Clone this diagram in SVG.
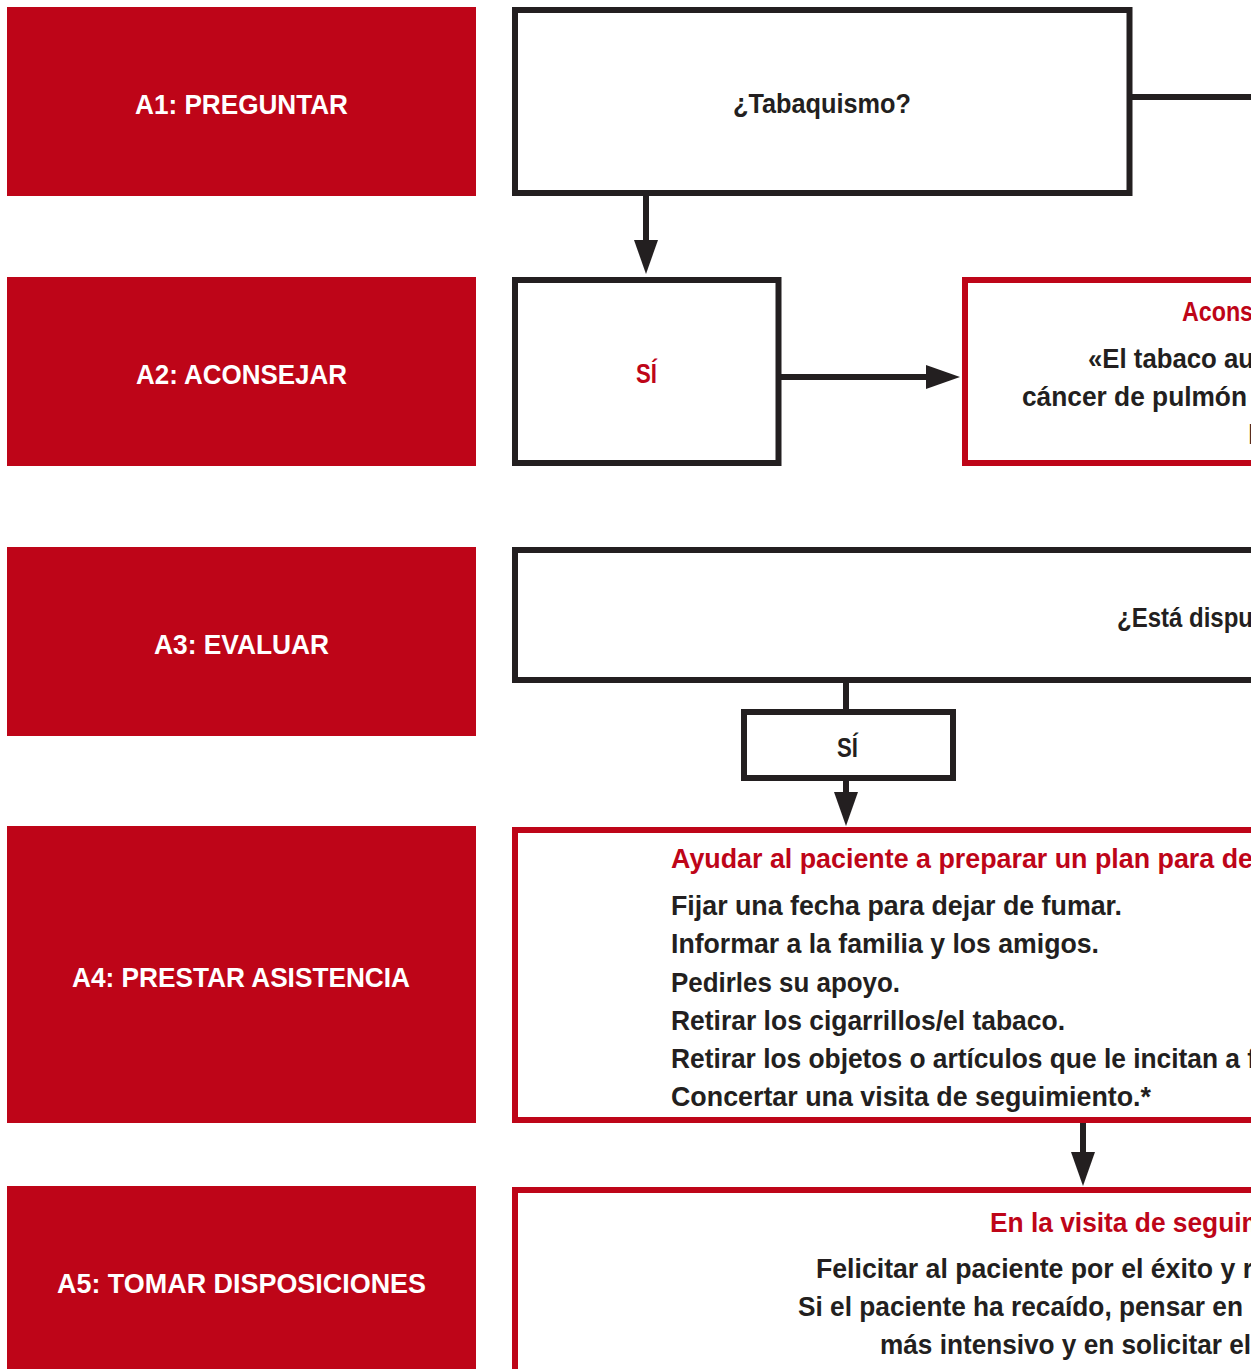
<svg xmlns="http://www.w3.org/2000/svg" width="1251" height="1369" viewBox="0 0 1251 1369">
<style>
.lbl{fill:#BE0518}
.lt{fill:#ffffff;font-family:"Liberation Sans Narrow","Liberation Sans",Arial,sans-serif;font-weight:bold;font-size:28px}
.t{fill:#231F20;font-family:"Liberation Sans Narrow","Liberation Sans",Arial,sans-serif;font-weight:bold;font-size:28px}
.r{fill:#BE0518}
.bk{fill:#ffffff;stroke:#231F20;stroke-width:6}
.rd{fill:#ffffff;stroke:#BE0518;stroke-width:6}
.c{fill:none;stroke:#231F20;stroke-width:6}
</style>
<defs>
<marker id="ah" markerUnits="userSpaceOnUse" markerWidth="34" markerHeight="24" viewBox="0 0 34 24" refX="0" refY="12" orient="auto">
<path d="M0,0 L34,12 L0,24 Z" fill="#231F20"/>
</marker>
</defs>
<rect width="1251" height="1369" fill="#ffffff"/>

<g id="label-a1"><rect class="lbl" x="7" y="7" width="469" height="189"/><text class="lt" x="135" y="114" textLength="213" lengthAdjust="spacingAndGlyphs">A1: PREGUNTAR</text></g>
<g id="label-a2"><rect class="lbl" x="7" y="277" width="469" height="189"/><text class="lt" x="136" y="384" textLength="211" lengthAdjust="spacingAndGlyphs">A2: ACONSEJAR</text></g>
<g id="label-a3"><rect class="lbl" x="7" y="547" width="469" height="189"/><text class="lt" x="154" y="654" textLength="175" lengthAdjust="spacingAndGlyphs">A3: EVALUAR</text></g>
<g id="label-a4"><rect class="lbl" x="7" y="826" width="469" height="297"/><text class="lt" x="72" y="987" textLength="338" lengthAdjust="spacingAndGlyphs">A4: PRESTAR ASISTENCIA</text></g>
<g id="label-a5"><rect class="lbl" x="7" y="1186" width="469" height="200"/><text class="lt" x="57" y="1293" textLength="369" lengthAdjust="spacingAndGlyphs">A5: TOMAR DISPOSICIONES</text></g>

<g id="connectors">
<path class="c" d="M1130,97 H1260"/>
<path class="c" d="M646,193 V240" marker-end="url(#ah)"/>
<path class="c" d="M778,377 H926" marker-end="url(#ah)"/>
<path class="c" d="M846,680 V712"/>
<path class="c" d="M846,778 V792" marker-end="url(#ah)"/>
<path class="c" d="M1083,1120 V1152" marker-end="url(#ah)"/>
</g>

<g id="node-tabaquismo"><rect class="bk" x="515" y="10" width="614.5" height="183"/><text class="t" x="733" y="113" textLength="178" lengthAdjust="spacingAndGlyphs">¿Tabaquismo?</text></g>
<g id="node-si1"><rect class="bk" x="515" y="280" width="263.5" height="183"/><text class="t r" x="636" y="383" textLength="21" lengthAdjust="spacingAndGlyphs">SÍ</text></g>
<g id="node-aconsejar"><rect class="rd" x="965" y="280" width="400" height="183"/>
<text class="t r" x="1182" y="321" textLength="71" lengthAdjust="spacingAndGlyphs">Acons</text>
<text class="t" x="1088" y="368" textLength="166" lengthAdjust="spacingAndGlyphs">«El tabaco au</text>
<text class="t" x="1022" y="406" textLength="225" lengthAdjust="spacingAndGlyphs">cáncer de pulmón</text>
<text class="t" x="1248" y="444">l</text>
</g>
<g id="node-dispuesto"><rect class="bk" x="515" y="550" width="800" height="130"/><text class="t" x="1117" y="627" textLength="136" lengthAdjust="spacingAndGlyphs">¿Está dispu</text></g>
<g id="node-si2"><rect class="bk" x="744" y="712" width="209" height="66"/><text class="t" x="837" y="757" textLength="21" lengthAdjust="spacingAndGlyphs">SÍ</text></g>
<g id="node-asistencia"><rect class="rd" x="515" y="830" width="800" height="290"/>
<text class="t r" x="671" y="868" textLength="582" lengthAdjust="spacingAndGlyphs">Ayudar al paciente a preparar un plan para de</text>
<text class="t" x="671" y="915" textLength="451" lengthAdjust="spacingAndGlyphs">Fijar una fecha para dejar de fumar.</text>
<text class="t" x="671" y="953" textLength="428" lengthAdjust="spacingAndGlyphs">Informar a la familia y los amigos.</text>
<text class="t" x="671" y="991.5" textLength="229" lengthAdjust="spacingAndGlyphs">Pedirles su apoyo.</text>
<text class="t" x="671" y="1030" textLength="394" lengthAdjust="spacingAndGlyphs">Retirar los cigarrillos/el tabaco.</text>
<text class="t" x="671" y="1068" textLength="585" lengthAdjust="spacingAndGlyphs">Retirar los objetos o artículos que le incitan a f</text>
<text class="t" x="671" y="1106" textLength="480" lengthAdjust="spacingAndGlyphs">Concertar una visita de seguimiento.*</text>
</g>
<g id="node-seguimiento"><rect class="rd" x="515" y="1190" width="800" height="300"/>
<text class="t r" x="990" y="1232" textLength="275" lengthAdjust="spacingAndGlyphs">En la visita de seguim</text>
<text class="t" x="816" y="1278" textLength="437" lengthAdjust="spacingAndGlyphs">Felicitar al paciente por el éxito y r</text>
<text class="t" x="798" y="1316" textLength="445" lengthAdjust="spacingAndGlyphs">Si el paciente ha recaído, pensar en</text>
<text class="t" x="880" y="1354" textLength="371" lengthAdjust="spacingAndGlyphs">más intensivo y en solicitar el</text>
</g>
</svg>
